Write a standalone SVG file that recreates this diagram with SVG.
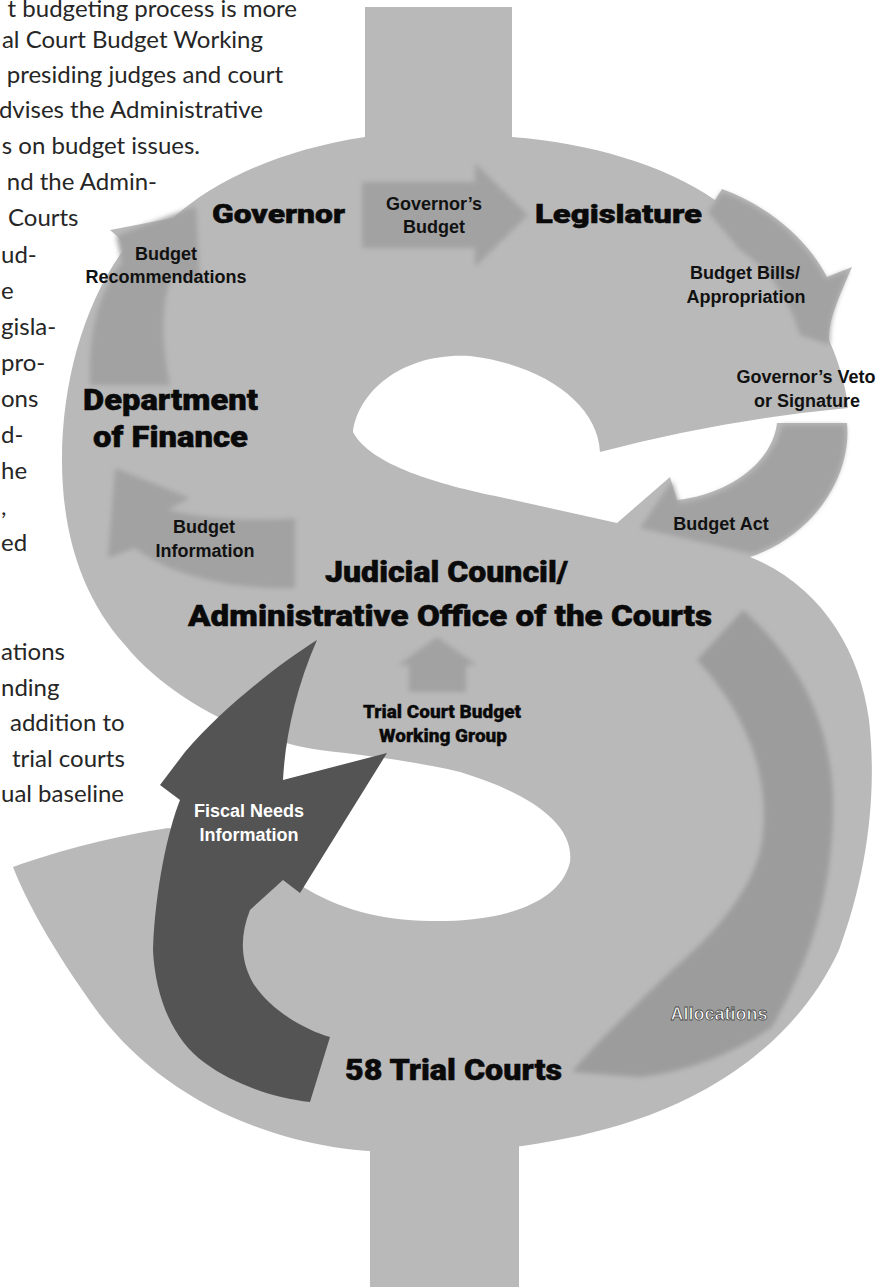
<svg xmlns="http://www.w3.org/2000/svg" width="879" height="1287" viewBox="0 0 879 1287">
  <defs>
    <filter id="soft" x="-20%" y="-20%" width="140%" height="140%">
      <feGaussianBlur stdDeviation="2.5"/>
    </filter>
    <style>
      .body { font-family: Lato, "Open Sans", sans-serif; font-size: 24px; fill: #262626; }
      .r { text-anchor: end; }
      .shape { fill: #b9b9b9; }
      .shade { fill: #a2a2a2; filter: url(#soft); }
      .heavy { font-family: Roboto, "Liberation Sans", sans-serif; font-weight: 900; fill: #0a0a0a; stroke: #0a0a0a; stroke-width: 0.5; }
      .lbl { font-family: "Liberation Sans", Arial, sans-serif; font-weight: bold; font-size: 18px; fill: #111; text-anchor: middle; }
      .lbl-w { font-family: "Liberation Sans", Arial, sans-serif; font-weight: bold; font-size: 18px; fill: #fff; text-anchor: middle; }
    </style>
  </defs>

  <rect width="879" height="1287" fill="#fff"/>

  <!-- column text running in from the left -->
  <g id="body-text" class="body">
    <text class="r" x="297" y="17">t budgeting process is more</text>
    <text class="r" x="263" y="48">al Court Budget Working</text>
    <text class="r" x="283" y="83">presiding judges and court</text>
    <text class="r" x="263" y="118">dvises the Administrative</text>
    <text class="r" x="200" y="154">s on budget issues.</text>
    <text class="r" x="157" y="190">nd the Admin-</text>
    <text x="8" y="226">Courts</text>
    <text x="1" y="263">ud-</text>
    <text x="1" y="299">e</text>
    <text x="1" y="335">gisla-</text>
    <text x="1" y="371">pro-</text>
    <text x="1" y="407">ons</text>
    <text x="1" y="443">d-</text>
    <text x="1" y="479">he</text>
    <text x="1" y="515">,</text>
    <text x="1" y="551">ed</text>
    <text x="1" y="660">ations</text>
    <text x="1" y="696">nding</text>
    <text x="10" y="731">addition to</text>
    <text x="12" y="767">trial courts</text>
    <text x="1" y="802">ual baseline</text>
  </g>

  <!-- the dollar sign: stroke bars and the S body -->
  <g id="dollar-sign">
    <rect class="shape" x="365" y="7" width="147" height="140"/>
    <rect class="shape" x="370" y="1140" width="149" height="147"/>
    <path class="shape" d="M 365,137 C 410,133 470,133 512,137 C 590,143 665,165 715,200 L 722,189 C 765,205 805,235 827,277 L 852,267 C 840,295 828,320 829,340 C 838,360 846,385 848,408 Q 720,420 600,452 C 598,405 545,365 470,356 C 405,352 358,390 353,432 C 370,465 440,485 500,497 L 617,523 L 670,477 L 677,500 C 725,495 772,465 777,423 L 847,423 C 852,475 815,535 750,557 C 820,585 860,650 869,720 C 878,800 865,880 839,950 C 800,1035 720,1095 620,1125 C 530,1152 420,1160 333,1147 C 230,1130 150,1080 100,1015 C 60,960 30,910 13,867 C 60,850 120,835 168,828 C 220,835 260,860 300,885 C 340,910 380,920 430,921 C 500,922 560,905 570,862 C 575,820 520,790 460,772 C 410,760 360,755 320,750 C 250,740 170,700 125,645 C 80,595 62,530 62,460 C 62,380 85,300 127,245 L 110,230 L 173,218 C 215,180 280,150 365,137 Z"/>
  </g>

  <!-- flow arrows drawn into the S -->
  <g id="connectors">
    <path id="arrow-governors-budget" class="shade" d="M 362,182 L 475,182 L 475,163 L 528,215 L 475,267 L 475,248 L 362,248 Z"/>
    <path id="arrow-budget-recommendations" class="shade" d="M 90,385 C 88,330 100,290 122,262 L 116,236 L 196,206 L 200,282 L 172,276 C 160,305 162,345 170,385 Z"/>
    <path id="arrow-budget-information" class="shade" d="M 295,518 L 295,588 C 230,590 170,575 135,548 L 108,558 L 115,468 L 190,498 L 168,510 C 200,518 250,522 295,518 Z"/>
    <path id="arrow-budget-bills" class="shade" d="M 708,212 L 722,192 C 765,207 803,237 826,279 L 849,270 C 838,296 828,320 830,345 L 800,335 C 790,300 770,270 740,250 Z"/>
    <path id="arrow-budget-act" class="shade" d="M 782,425 L 845,425 C 850,475 815,532 752,554 L 640,528 L 672,481 L 679,503 C 727,497 772,467 782,425 Z"/>
    <path id="arrow-working-group" class="shade" d="M 398,665 L 437,637 L 477,665 L 466,665 L 466,692 L 409,692 L 409,665 Z"/>
    <path id="arrow-allocations" class="shade" style="fill:#9c9c9c" d="M 743,610 C 800,660 836,730 833,817 C 830,900 810,960 772,1027 C 740,1050 690,1072 639,1077 L 572,1072 C 590,1050 620,1020 672,970 C 720,930 760,880 763,833 C 768,780 752,720 697,660 Z"/>
    <path id="arrow-fiscal-needs" fill="#545454" d="M 310,1102 L 330,1037 C 305,1030 270,1010 253,983 C 240,960 240,935 250,910 L 283,880 L 300,893 L 387,753 L 333,767 L 283,780 C 285,740 295,690 317,640 C 285,660 225,705 185,752 L 160,785 L 180,800 C 168,830 155,890 153,950 C 155,995 172,1040 205,1063 C 235,1085 275,1098 310,1102 Z"/>

    <text class="lbl" x="434" y="210">Governor’s</text>
    <text class="lbl" x="434" y="233">Budget</text>
    <text class="lbl" x="166" y="260">Budget</text>
    <text class="lbl" x="166" y="283">Recommendations</text>
    <text class="lbl" x="745" y="279">Budget Bills/</text>
    <text class="lbl" x="746" y="303">Appropriation</text>
    <text class="lbl" x="806" y="383">Governor’s Veto</text>
    <text class="lbl" x="807" y="407">or Signature</text>
    <text class="lbl" x="721" y="530">Budget Act</text>
    <text class="lbl" x="204" y="533">Budget</text>
    <text class="lbl" x="205" y="557">Information</text>
    <text class="lbl-w" x="249" y="817">Fiscal Needs</text>
    <text class="lbl-w" x="249" y="841">Information</text>
    <text class="lbl-w" x="719" y="1020" stroke="#4a4a4a" stroke-width="0.8">Allocations</text>
  </g>

  <!-- participants -->
  <g id="node-governor">
    <text class="heavy" x="212" y="223" font-size="26" textLength="133" lengthAdjust="spacingAndGlyphs">Governor</text>
  </g>
  <g id="node-legislature">
    <text class="heavy" x="535" y="223" font-size="26" textLength="167" lengthAdjust="spacingAndGlyphs">Legislature</text>
  </g>
  <g id="node-department-of-finance">
    <text class="heavy" x="83" y="410" font-size="29" textLength="175" lengthAdjust="spacingAndGlyphs">Department</text>
    <text class="heavy" x="93" y="447" font-size="29" textLength="155" lengthAdjust="spacingAndGlyphs">of Finance</text>
  </g>
  <g id="node-judicial-council">
    <text class="heavy" x="325" y="582" font-size="29" textLength="243" lengthAdjust="spacingAndGlyphs">Judicial Council/</text>
    <text class="heavy" x="188" y="626" font-size="29" textLength="524" lengthAdjust="spacingAndGlyphs">Administrative Office of the Courts</text>
  </g>
  <g id="node-working-group">
    <text class="heavy" x="442" y="718" font-size="19" text-anchor="middle" style="stroke-width:0.3">Trial Court Budget</text>
    <text class="heavy" x="443" y="742" font-size="19" text-anchor="middle" style="stroke-width:0.3">Working Group</text>
  </g>
  <g id="node-trial-courts">
    <text class="heavy" x="345" y="1080" font-size="29" textLength="217" lengthAdjust="spacingAndGlyphs">58 Trial Courts</text>
  </g>
</svg>
